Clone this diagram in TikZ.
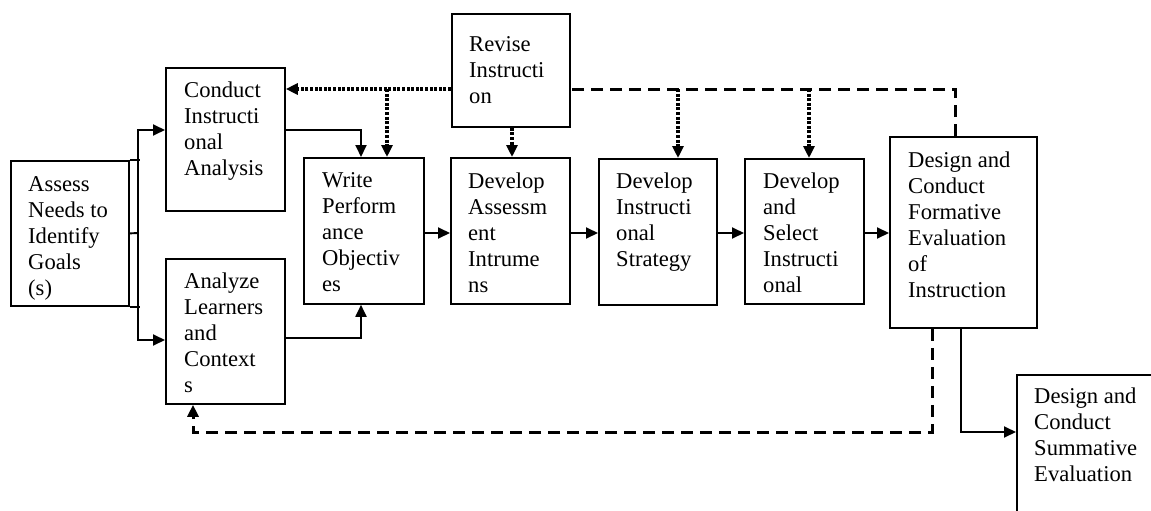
\documentclass[tikz,border=0pt]{standalone}
\usepackage{fontspec}
\setmainfont{Liberation Serif}
\newfontfamily\boxfont{Liberation Serif}
\usetikzlibrary{arrows.meta,calc}
\begin{document}
\begin{tikzpicture}[x=1pt,y=-1pt,
  box/.style={draw, line width=1.8pt, rectangle, inner sep=0pt, anchor=north west},
  txt/.style={anchor=north west, inner sep=0pt, align=left, font=\boxfont\fontsize{22.6}{26}\selectfont},
  plain/.style={line width=1.9pt},
  conn/.style={line width=1.9pt, -{Triangle[length=12pt,width=11pt]}},
  dotconn/.style={line width=3.2pt, dash pattern=on 3pt off 1.6pt, -{Triangle[length=12pt,width=11pt]}},
  dashline/.style={line width=3pt, dash pattern=on 12pt off 7pt},
  dashconn/.style={line width=3pt, dash pattern=on 12pt off 7pt, -{Triangle[length=12pt,width=11pt]}},
]
\useasboundingbox (0,0) rectangle (1151,511);

% boxes
\node[box, minimum width=118pt, minimum height=145pt] (assess) at (10,160) {};
\node[box, minimum width=119pt, minimum height=143pt] (conduct) at (165,67) {};
\node[box, minimum width=119pt, minimum height=145pt] (analyze) at (165,258) {};
\node[box, minimum width=120pt, minimum height=146pt] (write) at (303,157) {};
\node[box, minimum width=119pt, minimum height=146pt] (devassess) at (450,157) {};
\node[box, minimum width=118pt, minimum height=113pt] (revise) at (451,13) {};
\node[box, minimum width=118pt, minimum height=146pt] (strategy) at (598,158) {};
\node[box, minimum width=119pt, minimum height=145pt] (select) at (744,158) {};
\node[box, minimum width=147pt, minimum height=191pt] (formative) at (889,136) {};
\node[box, minimum width=170pt, minimum height=170pt] (summative) at (1016,374) {};

% texts
\node[txt] (assessT) at ($(assess.north west)+(18,16)$) {Assess\\Needs to\\Identify\\Goals\\(s)};
\node[txt] (conductT) at ($(conduct.north west)+(19,15)$) {Conduct\\Instructi\\onal\\Analysis};
\node[txt] (analyzeT) at ($(analyze.north west)+(19,15)$) {Analyze\\Learners\\and\\Context\\s};
\node[txt] (writeT) at ($(write.north west)+(19,15.5)$) {Write\\Perform\\ance\\Objectiv\\es};
\node[txt] (devassessT) at ($(devassess.north west)+(18,15.5)$) {Develop\\Assessm\\ent\\Intrume\\ns};
\node[txt] (reviseT) at ($(revise.north west)+(18,23.5)$) {Revise\\Instructi\\on};
\node[txt] (strategyT) at ($(strategy.north west)+(18,15)$) {Develop\\Instructi\\onal\\Strategy};
\node[txt] (selectT) at ($(select.north west)+(19,15)$) {Develop\\and\\Select\\Instructi\\onal};
\node[txt] (formativeT) at ($(formative.north west)+(19,15.5)$) {Design and\\Conduct\\Formative\\Evaluation\\of\\Instruction};
\node[txt] (summativeT) at ($(summative.north west)+(18,14)$) {Design and\\Conduct\\Summative\\Evaluation};

% helper coordinates
\coordinate (split) at (138,233);
\coordinate (hA) at (0,130);
\coordinate (hB) at (0,340);
\coordinate (hC) at (0,338);
\coordinate (hD) at (0,89);
\coordinate (hE) at (0,233);
\coordinate (hF) at (0,432);
\coordinate (cx1) at (361,0);
\coordinate (cx2) at (387,0);
\coordinate (cx3) at (512,0);
\coordinate (cx4) at (955,0);
\coordinate (cx5) at (678,0);
\coordinate (cx6) at (809,0);
\coordinate (cx7) at (961,0);
\coordinate (cx8) at (932,0);
\coordinate (cx9) at (193,0);

% assess branching
\draw[plain] (assess.east) -- (split);
\draw[plain] (assess.north east) -- ++(10,0);
\draw[plain] (assess.south east) -- ++(10,0);
\draw[conn] (split) |- (conduct.west |- hA);
\draw[conn] (split) |- (analyze.west |- hB);

% into write
\draw[conn] (conduct.east |- hA) -| (cx1 |- write.north);
\draw[conn] (analyze.east |- hC) -| (cx1 |- write.south);

% main chain
\draw[conn] (write.east |- hE) -- (devassess.west |- hE);
\draw[conn] (devassess.east |- hE) -- (strategy.west |- hE);
\draw[conn] (strategy.east |- hE) -- (select.west |- hE);
\draw[conn] (select.east |- hE) -- (formative.west |- hE);

% revise (dotted)
\draw[dotconn] (revise.west |- hD) -- (conduct.east |- hD);
\draw[dotconn] (cx2 |- hD) -- (cx2 |- write.north);
\draw[dotconn] (cx3 |- revise.south) -- (cx3 |- devassess.north);

% feedback dashed from formative to revise
\draw[dashline] (cx4 |- formative.north) |- (revise.east |- hD);
\draw[dotconn] (cx5 |- hD) -- (cx5 |- strategy.north);
\draw[dotconn] (cx6 |- hD) -- (cx6 |- select.north);

% formative to summative
\draw[conn] (cx7 |- formative.south) |- (summative.west |- hF);

% formative back to analyze
\draw[dashconn] (cx8 |- formative.south) |- (cx9 |- hF) -- (cx9 |- analyze.south);
\end{tikzpicture}
\end{document}
